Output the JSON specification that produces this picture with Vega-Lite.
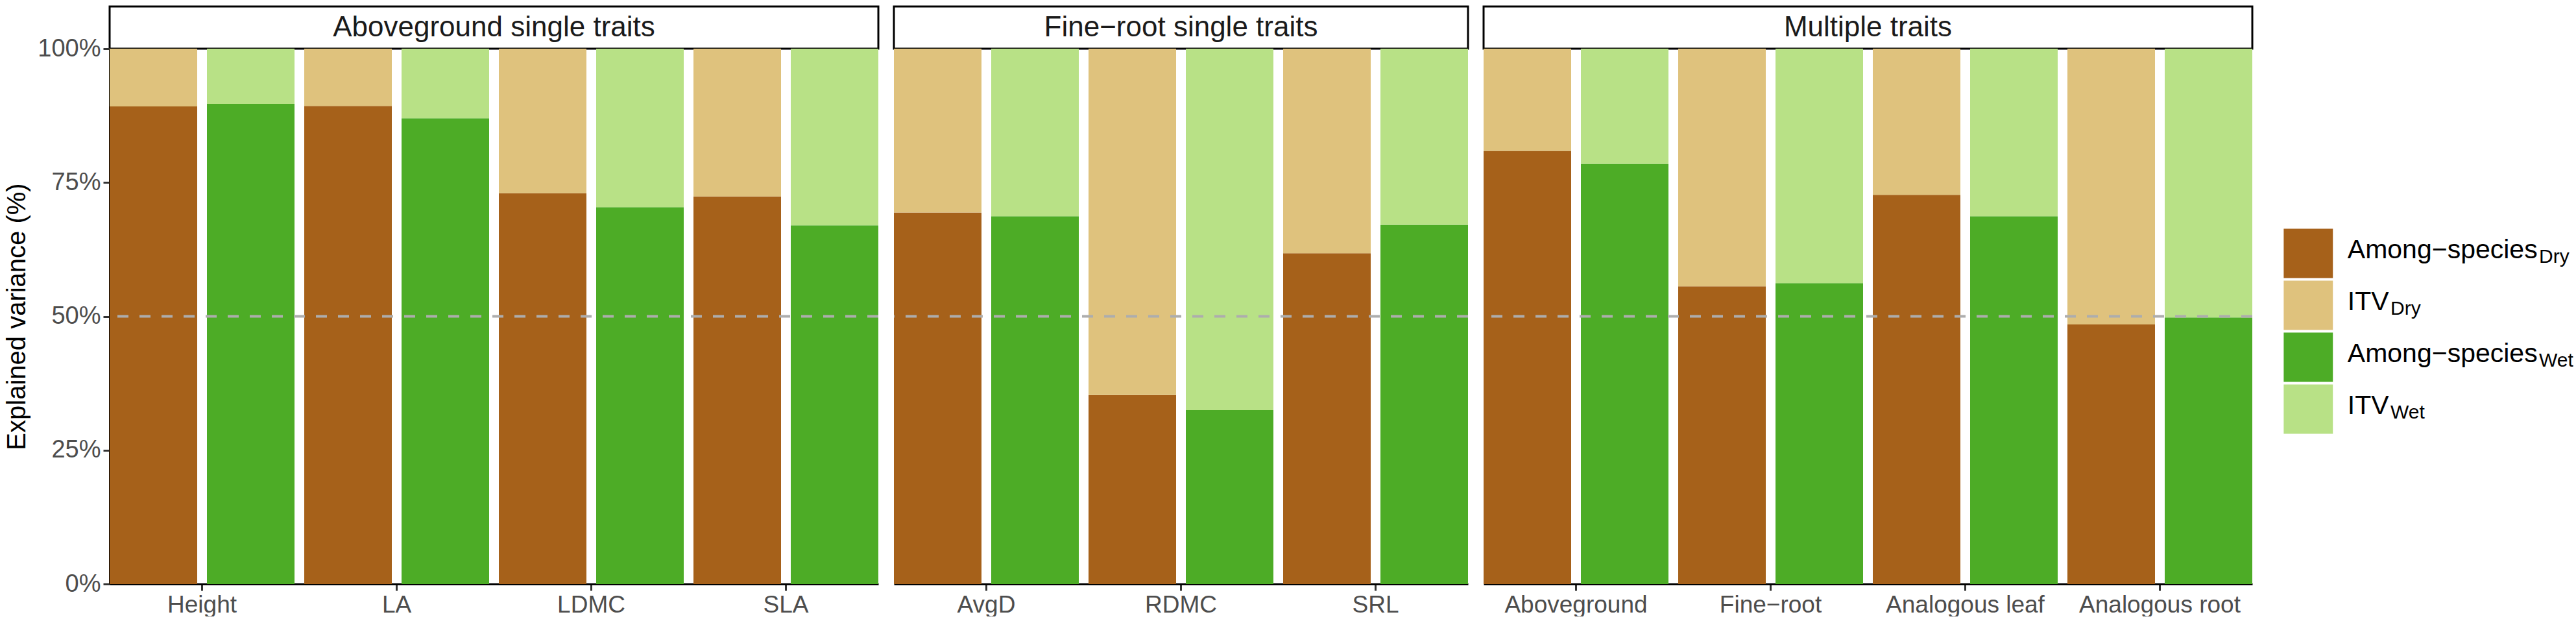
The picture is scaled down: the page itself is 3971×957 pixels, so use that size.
{
  "$schema": "https://vega.github.io/schema/vega-lite/v6.json",
  "background": "white",
  "padding": {"left": 6, "top": 8, "right": 0, "bottom": 0},
  "spacing": 20,
  "center": true,
  "datasets": {
    "bars": [
      {"panel": "A", "trait": "Height", "site": "Dry", "component": "AmongDry", "value": 89.2},
      {"panel": "A", "trait": "Height", "site": "Dry", "component": "ITVDry", "value": 10.8},
      {"panel": "A", "trait": "Height", "site": "Wet", "component": "AmongWet", "value": 89.7},
      {"panel": "A", "trait": "Height", "site": "Wet", "component": "ITVWet", "value": 10.3},
      {"panel": "A", "trait": "LA", "site": "Dry", "component": "AmongDry", "value": 89.3},
      {"panel": "A", "trait": "LA", "site": "Dry", "component": "ITVDry", "value": 10.7},
      {"panel": "A", "trait": "LA", "site": "Wet", "component": "AmongWet", "value": 87.0},
      {"panel": "A", "trait": "LA", "site": "Wet", "component": "ITVWet", "value": 13.0},
      {"panel": "A", "trait": "LDMC", "site": "Dry", "component": "AmongDry", "value": 73.0},
      {"panel": "A", "trait": "LDMC", "site": "Dry", "component": "ITVDry", "value": 27.0},
      {"panel": "A", "trait": "LDMC", "site": "Wet", "component": "AmongWet", "value": 70.4},
      {"panel": "A", "trait": "LDMC", "site": "Wet", "component": "ITVWet", "value": 29.6},
      {"panel": "A", "trait": "SLA", "site": "Dry", "component": "AmongDry", "value": 72.4},
      {"panel": "A", "trait": "SLA", "site": "Dry", "component": "ITVDry", "value": 27.6},
      {"panel": "A", "trait": "SLA", "site": "Wet", "component": "AmongWet", "value": 67.0},
      {"panel": "A", "trait": "SLA", "site": "Wet", "component": "ITVWet", "value": 33.0},
      {"panel": "F", "trait": "AvgD", "site": "Dry", "component": "AmongDry", "value": 69.4},
      {"panel": "F", "trait": "AvgD", "site": "Dry", "component": "ITVDry", "value": 30.6},
      {"panel": "F", "trait": "AvgD", "site": "Wet", "component": "AmongWet", "value": 68.7},
      {"panel": "F", "trait": "AvgD", "site": "Wet", "component": "ITVWet", "value": 31.3},
      {"panel": "F", "trait": "RDMC", "site": "Dry", "component": "AmongDry", "value": 35.3},
      {"panel": "F", "trait": "RDMC", "site": "Dry", "component": "ITVDry", "value": 64.7},
      {"panel": "F", "trait": "RDMC", "site": "Wet", "component": "AmongWet", "value": 32.5},
      {"panel": "F", "trait": "RDMC", "site": "Wet", "component": "ITVWet", "value": 67.5},
      {"panel": "F", "trait": "SRL", "site": "Dry", "component": "AmongDry", "value": 61.8},
      {"panel": "F", "trait": "SRL", "site": "Dry", "component": "ITVDry", "value": 38.2},
      {"panel": "F", "trait": "SRL", "site": "Wet", "component": "AmongWet", "value": 67.1},
      {"panel": "F", "trait": "SRL", "site": "Wet", "component": "ITVWet", "value": 32.9},
      {"panel": "M", "trait": "Aboveground", "site": "Dry", "component": "AmongDry", "value": 80.9},
      {"panel": "M", "trait": "Aboveground", "site": "Dry", "component": "ITVDry", "value": 19.1},
      {"panel": "M", "trait": "Aboveground", "site": "Wet", "component": "AmongWet", "value": 78.5},
      {"panel": "M", "trait": "Aboveground", "site": "Wet", "component": "ITVWet", "value": 21.5},
      {"panel": "M", "trait": "Fine−root", "site": "Dry", "component": "AmongDry", "value": 55.6},
      {"panel": "M", "trait": "Fine−root", "site": "Dry", "component": "ITVDry", "value": 44.4},
      {"panel": "M", "trait": "Fine−root", "site": "Wet", "component": "AmongWet", "value": 56.2},
      {"panel": "M", "trait": "Fine−root", "site": "Wet", "component": "ITVWet", "value": 43.8},
      {"panel": "M", "trait": "Analogous leaf", "site": "Dry", "component": "AmongDry", "value": 72.7},
      {"panel": "M", "trait": "Analogous leaf", "site": "Dry", "component": "ITVDry", "value": 27.3},
      {"panel": "M", "trait": "Analogous leaf", "site": "Wet", "component": "AmongWet", "value": 68.7},
      {"panel": "M", "trait": "Analogous leaf", "site": "Wet", "component": "ITVWet", "value": 31.3},
      {"panel": "M", "trait": "Analogous root", "site": "Dry", "component": "AmongDry", "value": 48.5},
      {"panel": "M", "trait": "Analogous root", "site": "Dry", "component": "ITVDry", "value": 51.5},
      {"panel": "M", "trait": "Analogous root", "site": "Wet", "component": "AmongWet", "value": 49.8},
      {"panel": "M", "trait": "Analogous root", "site": "Wet", "component": "ITVWet", "value": 50.2}
    ],
    "legend": [
      {"key": "AmongDry", "main": "Among−species", "sub": "Dry"},
      {"key": "ITVDry", "main": "ITV", "sub": "Dry"},
      {"key": "AmongWet", "main": "Among−species", "sub": "Wet"},
      {"key": "ITVWet", "main": "ITV", "sub": "Wet"}
    ]
  },
  "hconcat": [
    {
      "spacing": 0,
      "bounds": "flush",
      "vconcat": [
        {
          "width": 1185,
          "height": 65,
          "view": {"stroke": "black", "strokeWidth": 3, "fill": "white"},
          "data": {"values": [{"label": "Aboveground single traits"}]},
          "mark": {"type": "text", "fontSize": 44, "color": "#1A1A1A"},
          "encoding": {"text": {"field": "label"}}
        },
        {
          "width": 1185,
          "height": 825,
          "data": {"name": "bars"},
          "transform": [{"filter": "datum.panel == 'A'"}],
          "layer": [
            {
              "mark": "bar",
              "encoding": {
                "x": {"field": "trait", "type": "nominal", "sort": ["Height", "LA", "LDMC", "SLA"],
                      "scale": {"paddingInner": 0.05, "paddingOuter": 0}, "axis": {"title": null}},
                "xOffset": {"field": "site", "type": "nominal", "sort": ["Dry", "Wet"],
                            "scale": {"paddingInner": 0.1, "paddingOuter": 0}},
                "y": {"field": "value", "type": "quantitative", "stack": "zero",
                      "scale": {"domain": [0, 100], "nice": false},
                      "axis": {"title": "Explained variance (%)", "values": [0, 25, 50, 75, 100],
                               "labelExpr": "datum.value + '%'"}},
                "color": {"field": "component", "type": "nominal", "legend": null,
                          "scale": {"domain": ["AmongDry", "ITVDry", "AmongWet", "ITVWet"],
                                    "range": ["#A6611A", "#DFC27D", "#4DAC26", "#B8E186"]}},
                "order": {"field": "component"}
              }
            },
            {
              "data": {"values": [{"ref": 50}]},
              "mark": {"type": "rule", "color": "#ADADAD", "strokeWidth": 4, "strokeDash": [17, 17]},
              "encoding": {"y": {"field": "ref", "type": "quantitative"}}
            }
          ]
        }
      ]
    },
    {
      "spacing": 0,
      "bounds": "flush",
      "vconcat": [
        {
          "width": 885,
          "height": 65,
          "view": {"stroke": "black", "strokeWidth": 3, "fill": "white"},
          "data": {"values": [{"label": "Fine−root single traits"}]},
          "mark": {"type": "text", "fontSize": 44, "color": "#1A1A1A"},
          "encoding": {"text": {"field": "label"}}
        },
        {
          "width": 885,
          "height": 825,
          "data": {"name": "bars"},
          "transform": [{"filter": "datum.panel == 'F'"}],
          "layer": [
            {
              "mark": "bar",
              "encoding": {
                "x": {"field": "trait", "type": "nominal", "sort": ["AvgD", "RDMC", "SRL"],
                      "scale": {"paddingInner": 0.05, "paddingOuter": 0}, "axis": {"title": null}},
                "xOffset": {"field": "site", "type": "nominal", "sort": ["Dry", "Wet"],
                            "scale": {"paddingInner": 0.1, "paddingOuter": 0}},
                "y": {"field": "value", "type": "quantitative", "stack": "zero",
                      "scale": {"domain": [0, 100], "nice": false}, "axis": null},
                "color": {"field": "component", "type": "nominal", "legend": null},
                "order": {"field": "component"}
              }
            },
            {
              "data": {"values": [{"ref": 50}]},
              "mark": {"type": "rule", "color": "#ADADAD", "strokeWidth": 4, "strokeDash": [17, 17]},
              "encoding": {"y": {"field": "ref", "type": "quantitative"}}
            }
          ]
        }
      ]
    },
    {
      "spacing": 0,
      "bounds": "flush",
      "vconcat": [
        {
          "width": 1185,
          "height": 65,
          "view": {"stroke": "black", "strokeWidth": 3, "fill": "white"},
          "data": {"values": [{"label": "Multiple traits"}]},
          "mark": {"type": "text", "fontSize": 44, "color": "#1A1A1A"},
          "encoding": {"text": {"field": "label"}}
        },
        {
          "width": 1185,
          "height": 825,
          "data": {"name": "bars"},
          "transform": [{"filter": "datum.panel == 'M'"}],
          "layer": [
            {
              "mark": "bar",
              "encoding": {
                "x": {"field": "trait", "type": "nominal",
                      "sort": ["Aboveground", "Fine−root", "Analogous leaf", "Analogous root"],
                      "scale": {"paddingInner": 0.05, "paddingOuter": 0}, "axis": {"title": null}},
                "xOffset": {"field": "site", "type": "nominal", "sort": ["Dry", "Wet"],
                            "scale": {"paddingInner": 0.1, "paddingOuter": 0}},
                "y": {"field": "value", "type": "quantitative", "stack": "zero",
                      "scale": {"domain": [0, 100], "nice": false}, "axis": null},
                "color": {"field": "component", "type": "nominal", "legend": null},
                "order": {"field": "component"}
              }
            },
            {
              "data": {"values": [{"ref": 50}]},
              "mark": {"type": "rule", "color": "#ADADAD", "strokeWidth": 4, "strokeDash": [17, 17]},
              "encoding": {"y": {"field": "ref", "type": "quantitative"}}
            }
          ]
        }
      ]
    },
    {
      "width": 480,
      "height": 480,
      "data": {"name": "legend"},
      "encoding": {
        "y": {"field": "key", "type": "nominal", "axis": null,
              "scale": {"domain": ["AmongDry", "ITVDry", "AmongWet", "ITVWet"],
                        "paddingInner": 0, "paddingOuter": 1, "align": 0.69}}
      },
      "layer": [
        {
          "mark": {"type": "bar", "height": {"band": 0.95}},
          "encoding": {
            "x": {"datum": 5.5, "type": "quantitative", "scale": {"domain": [0, 100]}, "axis": null},
            "x2": {"datum": 21.3},
            "color": {"field": "key", "type": "nominal", "legend": null}
          }
        },
        {
          "mark": {"type": "text", "align": "left", "baseline": "alphabetic", "dy": 8, "fontSize": 41, "color": "black"},
          "encoding": {"x": {"datum": 26, "type": "quantitative"}, "text": {"field": "main"}}
        },
        {
          "transform": [{"filter": {"field": "main", "equal": "Among−species"}}],
          "mark": {"type": "text", "align": "left", "baseline": "alphabetic", "dy": 15, "fontSize": 30, "color": "black"},
          "encoding": {"x": {"datum": 87.5, "type": "quantitative"}, "text": {"field": "sub"}}
        },
        {
          "transform": [{"filter": {"field": "main", "equal": "ITV"}}],
          "mark": {"type": "text", "align": "left", "baseline": "alphabetic", "dy": 15, "fontSize": 30, "color": "black"},
          "encoding": {"x": {"datum": 39.8, "type": "quantitative"}, "text": {"field": "sub"}}
        }
      ]
    }
  ],
  "config": {
    "font": "Liberation Sans",
    "view": {"stroke": null},
    "axis": {
      "domainColor": "black",
      "domainWidth": 3,
      "tickColor": "#333333",
      "tickWidth": 3,
      "tickSize": 10,
      "labelColor": "#4D4D4D",
      "labelPadding": 4,
      "grid": false,
      "titleColor": "black",
      "titleFontWeight": "normal"
    },
    "axisX": {"labelFontSize": 37, "labelAngle": 0, "labelLimit": 0},
    "axisY": {"labelFontSize": 38, "titleFontSize": 40, "titlePadding": 11}
  }
}
